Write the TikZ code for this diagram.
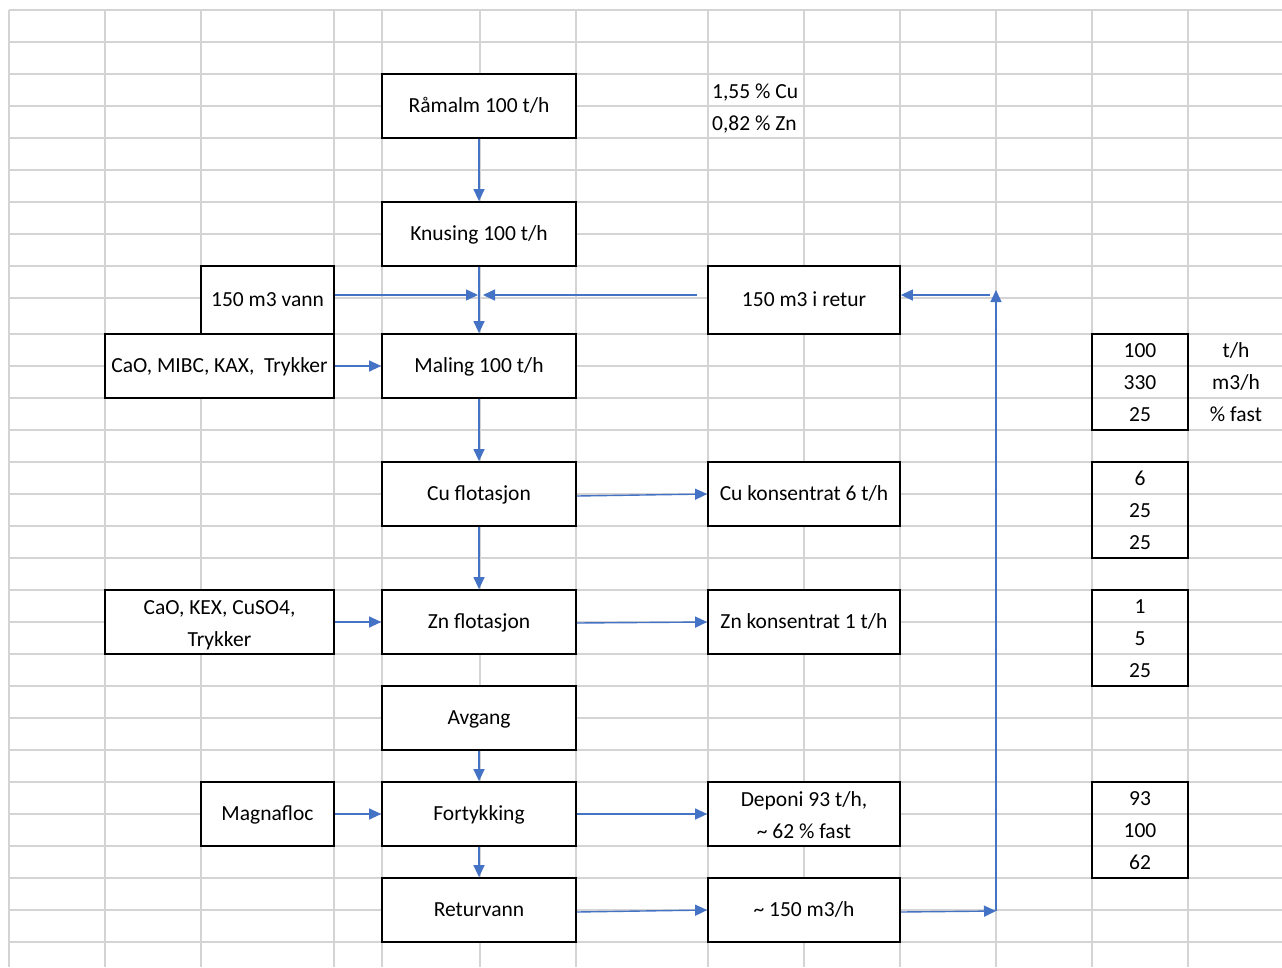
\documentclass[tikz,border=0pt]{standalone}
\usepackage{fontspec}
\setmainfont{Carlito}
\usetikzlibrary{arrows.meta}
\definecolor{gridc}{HTML}{D4D4D4}
\definecolor{arrc}{HTML}{4472C4}
\begin{document}
\begin{tikzpicture}[x=1pt,y=-1pt,
  box/.style={draw=black,line width=1.8pt,fill=white,inner sep=0pt,align=center,
    text height=15pt,text depth=2pt,
    minimum width=194pt,minimum height=64pt,font=\fontsize{21.5}{32}\selectfont},
  twoline/.style={text height=51pt,text depth=2pt},
  tbl/.style={draw=black,line width=1.8pt,inner sep=0pt,minimum width=96pt,minimum height=96pt},
  txt/.style={inner sep=0pt,text height=15pt,text depth=2pt,font=\fontsize{21.5}{32}\selectfont},
  flow/.style={draw=arrc,line width=1.4pt,-{Triangle[length=12pt,width=11pt]}},
  gline/.style={draw=gridc,line width=2pt}]
\useasboundingbox (0,0) rectangle (1282,967);
\fill[white] (0,0) rectangle (1282,967);
% grid
\foreach \x in {9,105,201,334,382,480,576,708,804,900,996,1092,1188}
  \draw[gline] (\x,10) -- (\x,967);
\foreach \y in {10,42,74,106,138,170,202,234,266,298,334,366,398,430,462,494,526,558,590,622,654,686,718,750,782,814,846,878,910,942}
  \draw[gline] (9,\y) -- (1282,\y);
% boxes
\node[box] (ramalm) at (479,106) {Råmalm 100 t/h};
\node[box] (knus) at (479,234) {Knusing 100 t/h};
\node[box,minimum width=133pt,minimum height=68pt] (vann) at (267.5,300) {150 m3 vann};
\node[box,minimum width=192pt,minimum height=68pt] (retur) at (804,300) {150 m3 i retur};
\node[box,minimum width=229pt] (cao1) at (219.5,366) {CaO, MIBC, KAX,\ \ Trykker};
\node[box] (maling) at (479,366) {Maling 100 t/h};
\node[box] (cuflot) at (479,494) {Cu flotasjon};
\node[box,minimum width=192pt] (cukons) at (804,494) {Cu konsentrat 6 t/h};
\node[box,twoline,minimum width=229pt] (cao2) at (219.5,622) {CaO, KEX, CuSO4,\\Trykker};
\node[box] (znflot) at (479,622) {Zn flotasjon};
\node[box,minimum width=192pt] (znkons) at (804,622) {Zn konsentrat 1 t/h};
\node[box] (avgang) at (479,718) {Avgang};
\node[box,minimum width=133pt] (magna) at (267.5,814) {Magnafloc};
\node[box] (fort) at (479,814) {Fortykking};
\node[box,twoline,minimum width=192pt] (deponi) at (804,814) {Deponi 93 t/h,\\\textasciitilde\ 62 \% fast};
\node[box] (returv) at (479,910) {Returvann};
\node[box,minimum width=192pt] (m150) at (804,910) {\textasciitilde\ 150 m3/h};
% free texts
\node[txt,anchor=west] (cu) at (712,92) {1,55 \% Cu};
\node[txt,anchor=west] (zn) at (712,124) {0,82 \% Zn};
% tables
\node[tbl] (t1) at (1140,382) {};
\node[tbl] (t2) at (1140,510) {};
\node[tbl] (t3) at (1140,638) {};
\node[tbl] (t4) at (1140,830) {};
\node[txt] (t1a) at (1140,351) {100};
\node[txt] (t1b) at (1140,383) {330};
\node[txt] (t1c) at (1140,415) {25};
\node[txt] (u1) at (1236,351) {t/h};
\node[txt] (u2) at (1236,383) {m3/h};
\node[txt] (u3) at (1236,415) {\% fast};
\node[txt] (t2a) at (1140,479) {6};
\node[txt] (t2b) at (1140,511) {25};
\node[txt] (t2c) at (1140,543) {25};
\node[txt] (t3a) at (1140,607) {1};
\node[txt] (t3b) at (1140,639) {5};
\node[txt] (t3c) at (1140,671) {25};
\node[txt] (t4a) at (1140,799) {93};
\node[txt] (t4b) at (1140,831) {100};
\node[txt] (t4c) at (1140,863) {62};
% connector coordinates
\coordinate (jL) at (478,295);
\coordinate (jR) at (483,295);
\coordinate (r1) at (996,911);
\coordinate (r2) at (996,290);
\coordinate (r3) at (990,295);
% arrows
\draw[flow] (ramalm.south) -- (knus.north);
\draw[flow] (knus.south) -- (maling.north);
\draw[flow] (vann.east |- jL) -- (jL);
\draw[flow,shorten <=10pt] (retur.west |- jR) -- (jR);
\draw[flow] (cao1.east) -- (maling.west);
\draw[flow] (maling.south) -- (cuflot.north);
\draw[flow] ([yshift=-2pt]cuflot.east) -- (cukons.west);
\draw[flow] (cuflot.south) -- (znflot.north);
\draw[flow] (cao2.east) -- (znflot.west);
\draw[flow] ([yshift=-1pt]znflot.east) -- (znkons.west);
\draw[flow] (avgang.south) -- (fort.north);
\draw[flow] (magna.east) -- (fort.west);
\draw[flow] (fort.east) -- (deponi.west);
\draw[flow] (fort.south) -- (returv.north);
\draw[flow] ([yshift=-2pt]returv.east) -- (m150.west);
\draw[flow] ([yshift=-2pt]m150.east) -- (r1);
\draw[flow] (r1) -- (r2);
\draw[flow] (r3) -- (retur.east |- r3);
\end{tikzpicture}
\end{document}
